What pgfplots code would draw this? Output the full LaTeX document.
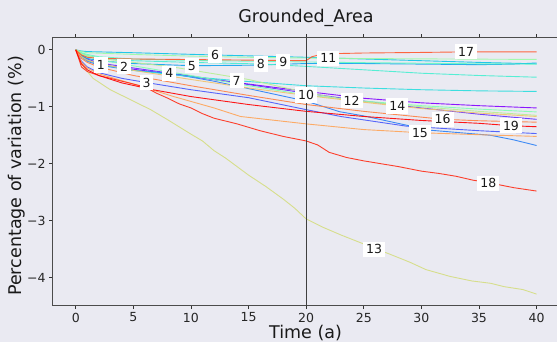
\documentclass[border=0pt]{standalone}
\usepackage{fontspec}
\setmainfont{DejaVu Sans}
\usepackage{pgfplots}
\pgfplotsset{compat=1.18}
\definecolor{bg}{HTML}{EAEAF2}
\definecolor{c1}{HTML}{8000FF}
\definecolor{c2}{HTML}{632CFE}
\definecolor{c3}{HTML}{4757FB}
\definecolor{c4}{HTML}{2A80F6}
\definecolor{c5}{HTML}{0EA4EF}
\definecolor{c6}{HTML}{0EC3E7}
\definecolor{c7}{HTML}{2ADDDD}
\definecolor{c8}{HTML}{47EFD1}
\definecolor{c9}{HTML}{63FBC3}
\definecolor{c10}{HTML}{80FFB4}
\definecolor{c11}{HTML}{9CFBA4}
\definecolor{c12}{HTML}{B8EF92}
\definecolor{c13}{HTML}{D4DD80}
\definecolor{c14}{HTML}{F1C36C}
\definecolor{c15}{HTML}{FFA457}
\definecolor{c16}{HTML}{FF8042}
\definecolor{c17}{HTML}{FF572C}
\definecolor{c18}{HTML}{FF2C16}
\definecolor{c19}{HTML}{FF0000}
\newcommand{\tfont}{\fontsize{12.5}{14}\selectfont}
\newcommand{\lfont}{\fontsize{17.5}{20}\selectfont}
\begin{document}
\begin{tikzpicture}[x=1pt,y=1pt]
\path[use as bounding box, fill=bg] (0,0) rectangle (557,342);
\clip (0,0) rectangle (557,342);
\begin{axis}[
  at={(52.7pt,36.3pt)}, anchor=south west, scale only axis,
  width=506.9pt, height=268pt,
  xmin=-2, xmax=42, ymin=-4.494, ymax=0.214,
  axis background/.style={fill=bg},
  axis line style={draw=black!70, line width=1.1pt},
  tick style={draw=black!80, line width=0.8pt},
  major tick length=3.5pt, tick align=outside,
  xtick={0,5,10,15,20,25,30,35,40},
  xticklabels={0,5,10,15,20,25,30,35,40},
  ytick={-4,-3,-2,-1,0},
  yticklabels={−4,−3,−2,−1,0},
  tick label style={font=\tfont, text=black!85},
  every axis plot/.append style={line width=0.9pt, opacity=0.9},
]
\addplot[c1] coordinates {(0,0)(0.5,-0.12)(1,-0.18)(2.2,-0.265)(5,-0.34)(10,-0.47)(15,-0.6)(20,-0.73)(25,-0.85)(30,-0.93)(35,-0.98)(40,-1.02)};
\addplot[c2] coordinates {(0,0)(0.5,-0.1)(1,-0.16)(2,-0.23)(4.2,-0.295)(10,-0.46)(15,-0.61)(20,-0.76)(25,-0.9)(30,-1.02)(35,-1.13)(40,-1.22)};
\addplot[c3] coordinates {(0,0)(0.5,-0.2)(1,-0.3)(2,-0.4)(4,-0.5)(6.1,-0.573)(10,-0.7)(15,-0.84)(20,-1.05)(23,-1.17)(28.7,-1.34)(35,-1.42)(40,-1.47)};
\addplot[c4] coordinates {(0,0)(0.5,-0.12)(1,-0.2)(2,-0.27)(5,-0.36)(8.1,-0.411)(12,-0.55)(15,-0.68)(20,-0.9)(22.9,-1.086)(25,-1.16)(30.7,-1.41)(36,-1.5)(38,-1.58)(40,-1.68)};
\addplot[c5] coordinates {(0,0)(0.5,-0.1)(1,-0.15)(2,-0.19)(5,-0.24)(10.07,-0.278)(15,-0.27)(20,-0.24)(25,-0.24)(30,-0.25)(35,-0.26)(38,-0.25)(40,-0.23)};
\addplot[c6] coordinates {(0,0)(0.5,-0.02)(1,-0.03)(5,-0.05)(12.09,-0.09)(20,-0.13)(25,-0.16)(30,-0.19)(35,-0.22)(40,-0.245)};
\addplot[c7] coordinates {(0,0)(0.5,-0.12)(1,-0.18)(2,-0.25)(5,-0.36)(10,-0.47)(13.97,-0.541)(20,-0.63)(25,-0.67)(30,-0.7)(35,-0.72)(40,-0.73)};
\addplot[c8] coordinates {(0,0)(0.5,-0.06)(1,-0.1)(2,-0.14)(5,-0.19)(10,-0.22)(16.06,-0.248)(20,-0.29)(25,-0.35)(30,-0.41)(35,-0.45)(40,-0.48)};
\addplot[c9] coordinates {(0,0)(0.5,-0.05)(1,-0.08)(2,-0.12)(5,-0.16)(10,-0.185)(18.02,-0.207)(25,-0.225)(30,-0.235)(35,-0.245)(40,-0.25)};
\addplot[c10] coordinates {(0,0)(0.5,-0.08)(1,-0.12)(2,-0.17)(5,-0.28)(10,-0.45)(15,-0.63)(19.99,-0.792)(25,-0.9)(30,-0.98)(35,-1.04)(40,-1.09)};
\addplot[c11] coordinates {(0,0)(0.5,-0.03)(1,-0.05)(5,-0.08)(10,-0.11)(15,-0.13)(21.92,-0.148)(30,-0.158)(35,-0.163)(40,-0.168)};
\addplot[c12] coordinates {(0,0)(0.5,-0.07)(1,-0.1)(2,-0.15)(5,-0.22)(8.4,-0.3)(15,-0.52)(20,-0.75)(23.95,-0.892)(30,-1.0)(35,-1.08)(40,-1.15)};
\addplot[c13] coordinates {(0,0)(0.3,-0.15)(0.65,-0.29)(1.5,-0.5)(3,-0.7)(5,-0.9)(6.5,-1.05)(8,-1.23)(10,-1.48)(11,-1.6)(12,-1.77)(13,-1.9)(13.8,-2.02)(15,-2.2)(16.5,-2.4)(18,-2.62)(19,-2.78)(20,-2.97)(21.5,-3.12)(23,-3.25)(24.5,-3.37)(25.89,-3.48)(27.4,-3.6)(29,-3.73)(30.4,-3.86)(32.5,-3.98)(34.4,-4.06)(36,-4.1)(37.2,-4.16)(38.8,-4.21)(40,-4.29)};
\addplot[c14] coordinates {(0,0)(0.5,-0.12)(1,-0.18)(2,-0.24)(5,-0.36)(10,-0.52)(15,-0.67)(20,-0.8)(25,-0.92)(27.91,-0.986)(30,-1.03)(35,-1.11)(40,-1.17)};
\addplot[c15] coordinates {(0,0)(0.5,-0.22)(1,-0.32)(2,-0.42)(5,-0.6)(8.5,-0.82)(12,-1.02)(14.3,-1.17)(20,-1.3)(25,-1.4)(29.88,-1.455)(35,-1.49)(40,-1.52)};
\addplot[c16] coordinates {(0,0)(0.5,-0.15)(1,-0.22)(2,-0.3)(5,-0.45)(10,-0.63)(15,-0.8)(20,-0.96)(25,-1.08)(31.85,-1.219)(35,-1.245)(40,-1.27)};
\addplot[c17] coordinates {(0,0)(0.5,-0.09)(1,-0.13)(2,-0.15)(5,-0.16)(10,-0.17)(15,-0.18)(20,-0.19)(20.5,-0.12)(21.5,-0.07)(25,-0.055)(30,-0.045)(33.88,-0.035)(40,-0.035)};
\addplot[c18] coordinates {(0,0)(0.5,-0.3)(1,-0.38)(2,-0.45)(4,-0.55)(6,-0.65)(7,-0.76)(8,-0.85)(9,-0.95)(10,-1.02)(11,-1.12)(12,-1.2)(14,-1.3)(16,-1.42)(18,-1.52)(20,-1.6)(21,-1.67)(22,-1.8)(23.5,-1.89)(25,-1.95)(26.5,-2.0)(28,-2.05)(30,-2.13)(31.5,-2.17)(33,-2.22)(34.5,-2.29)(35.82,-2.33)(37,-2.38)(38,-2.42)(40,-2.48)};
\addplot[c19] coordinates {(0,0)(0.5,-0.25)(1,-0.35)(2,-0.45)(4,-0.58)(6.7,-0.7)(10,-0.82)(15,-0.96)(20,-1.08)(25,-1.17)(30,-1.24)(35,-1.29)(37.78,-1.332)(40,-1.35)};
\addplot[black!75, line width=1.1pt, opacity=1] coordinates {(20,-4.494)(20,0.214)};
\begin{scope}[every node/.style={fill=white, inner sep=3pt, font=\tfont, text=black!90}]
\node at (axis cs:2.19,-0.265) {1};
\node at (axis cs:4.19,-0.295) {2};
\node at (axis cs:6.14,-0.573) {3};
\node at (axis cs:8.12,-0.411) {4};
\node at (axis cs:10.07,-0.278) {5};
\node at (axis cs:12.09,-0.090) {6};
\node at (axis cs:13.97,-0.541) {7};
\node at (axis cs:16.06,-0.248) {8};
\node at (axis cs:18.02,-0.207) {9};
\node at (axis cs:19.99,-0.792) {10};
\node at (axis cs:21.92,-0.148) {11};
\node at (axis cs:23.95,-0.892) {12};
\node at (axis cs:25.89,-3.503) {13};
\node at (axis cs:27.91,-0.986) {14};
\node at (axis cs:29.88,-1.455) {15};
\node at (axis cs:31.85,-1.219) {16};
\node at (axis cs:33.88,-0.032) {17};
\node at (axis cs:35.82,-2.344) {18};
\node at (axis cs:37.78,-1.332) {19};
\end{scope}
\end{axis}
\node[font=\lfont, anchor=base, text=black!90] at (306,319.3) {Grounded\_Area};
\node[font=\lfont, anchor=base, text=black!90] at (305.5,3.2) {Time (a)};
\node[font=\lfont, anchor=base, rotate=90, text=black!90] at (21,166) {Percentage of variation (\%)};
\end{tikzpicture}
\end{document}
